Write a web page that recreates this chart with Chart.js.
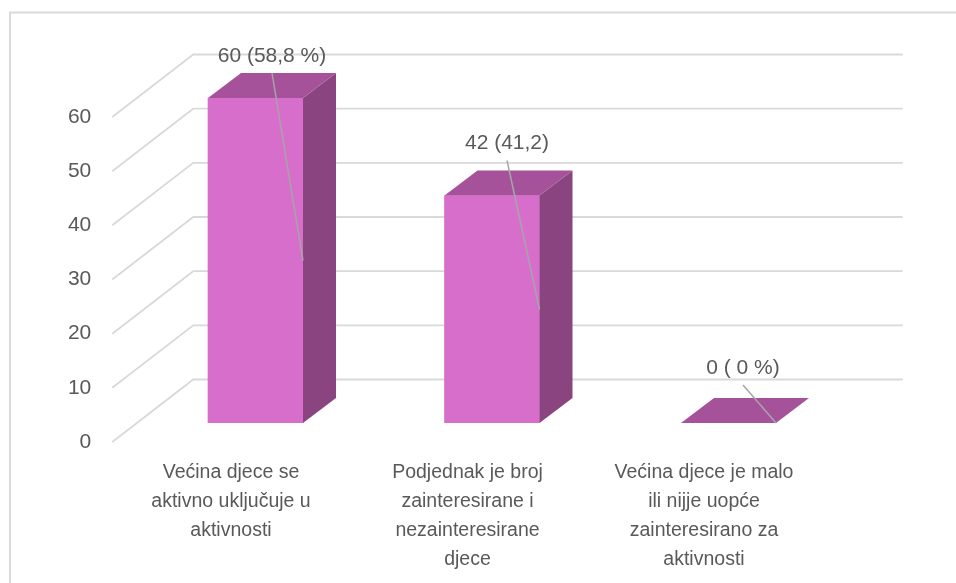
<!DOCTYPE html>
<html>
<head>
<meta charset="utf-8">
<script src="https://cdn.jsdelivr.net/npm/chart.js@4"></script>
<style>
  html, body { margin: 0; padding: 0; background: #ffffff; }
  #wrap { width: 956px; height: 583px; position: relative; }
</style>
</head>
<body>
<div id="wrap"><canvas id="c" width="956" height="583"></canvas></div>
<script>
// ---- data ----
const categories = [
  ['Većina djece se', 'aktivno uključuje u', 'aktivnosti'],
  ['Podjednak je broj', 'zainteresirane i', 'nezainteresirane', 'djece'],
  ['Većina djece je malo', 'ili nijje uopće', 'zainteresirano za', 'aktivnosti']
];
const values = [60, 42, 0];
const dataLabels = ['60 (58,8 %)', '42 (41,2)', '0 ( 0 %)'];
const yMin = 0;
const yMax = 60;
const yStep = 10;

// ---- style ----
const FONT = '"Liberation Sans", Arial, sans-serif';
const TEXT = '#595959';
const GRID = '#D9D9D9';
const FRONT = '#D86ECC';
const TOP = '#A5529B';
const SIDE = '#8A4580';
const DX = 33, DY = 25;             // bar depth
const labelShift = [[16.5, -42], [15, -52], [14.5, -55]];

const threeD = {
  id: 'threeD',
  beforeDraw(chart) {
    const ctx = chart.ctx;
    ctx.save();
    ctx.strokeStyle = '#DADADA';
    ctx.lineWidth = 2;
    ctx.strokeRect(10, 12.5, 2000, 2000);
    ctx.restore();
  },
  beforeDatasetsDraw(chart) {
    const ctx = chart.ctx;
    const ys = chart.scales.y;
    const area = chart.chartArea;
    const fx = area.left - 25, bx = area.left + 56, rx = area.right + 56;
    ctx.save();
    ctx.strokeStyle = GRID;
    ctx.lineWidth = 1.8;
    ctx.lineCap = 'butt';
    ys.ticks.forEach(t => {
      const yb = ys.getPixelForValue(t.value);
      ctx.beginPath();
      ctx.moveTo(fx, yb + 19);
      ctx.lineTo(bx, yb - 43.5);
      ctx.lineTo(rx, yb - 43.5);
      ctx.stroke();
    });
    ctx.restore();
  },
  afterDatasetsDraw(chart) {
    const ctx = chart.ctx;
    const meta = chart.getDatasetMeta(0);
    ctx.save();
    meta.data.forEach((bar, i) => {
      const l = bar.x - bar.width / 2, r = bar.x + bar.width / 2;
      const top = bar.y, base = bar.base;
      ctx.fillStyle = SIDE;
      ctx.beginPath();
      ctx.moveTo(r, top); ctx.lineTo(r + DX, top - DY);
      ctx.lineTo(r + DX, base - DY); ctx.lineTo(r, base);
      ctx.closePath(); ctx.fill();
      ctx.fillStyle = TOP;
      ctx.beginPath();
      ctx.moveTo(l, top); ctx.lineTo(l + DX, top - DY);
      ctx.lineTo(r + DX, top - DY); ctx.lineTo(r, top);
      ctx.closePath(); ctx.fill();
    });
    meta.data.forEach((bar, i) => {
      const r = bar.x + bar.width / 2;
      const lx = bar.x + labelShift[i][0];
      const ly = bar.y + labelShift[i][1];
      ctx.strokeStyle = '#A6A6A6';
      ctx.lineWidth = 1.5;
      ctx.beginPath();
      ctx.moveTo(lx, ly + 17);
      ctx.lineTo(r, (bar.y + bar.base) / 2);
      ctx.stroke();
      ctx.fillStyle = TEXT;
      ctx.font = '21px ' + FONT;
      ctx.textAlign = 'center';
      ctx.textBaseline = 'middle';
      ctx.fillText(dataLabels[i], lx, ly);
    });
    ctx.restore();
  }
};

new Chart(document.getElementById('c'), {
  type: 'bar',
  data: {
    labels: categories,
    datasets: [{
      data: values,
      backgroundColor: FRONT,
      borderWidth: 0,
      barThickness: 95
    }]
  },
  options: {
    responsive: false,
    animation: false,
    devicePixelRatio: 1,
    layout: { padding: { top: 98, right: 109.25, left: 0, bottom: 0 } },
    plugins: { legend: { display: false }, tooltip: { enabled: false } },
    scales: {
      x: {
        offset: true,
        grid: { display: false, drawTicks: false },
        border: { display: false },
        ticks: {
          color: TEXT,
          font: { family: FONT, size: 19.5, lineHeight: 1.49 },
          padding: 35,
          labelOffset: -24.5,
          maxRotation: 0,
          autoSkip: false
        },
        afterFit(s) { s.height = 160; }
      },
      y: {
        min: yMin,
        max: yMax,
        grid: { display: false, drawTicks: false },
        border: { display: false },
        ticks: {
          stepSize: yStep,
          color: TEXT,
          font: { family: FONT, size: 21 },
          padding: 46,
          labelOffset: 19
        },
        afterFit(s) { s.width = 137.25; }
      }
    }
  },
  plugins: [threeD]
});
</script>
</body>
</html>
